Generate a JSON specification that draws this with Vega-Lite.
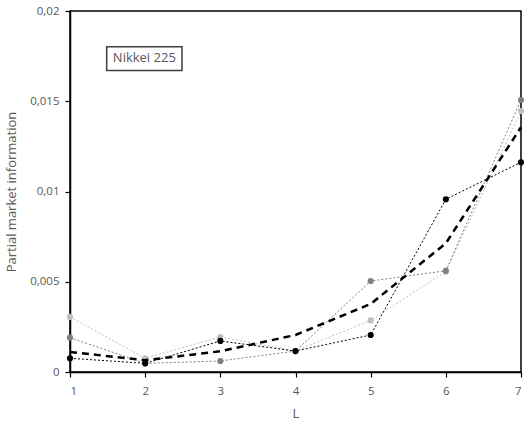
{
  "$schema": "https://vega.github.io/schema/vega-lite/v6.json",
  "width": 451,
  "height": 361,
  "autosize": "none",
  "padding": {"left": 70, "top": 11, "right": 9, "bottom": 55},
  "config": {
    "view": {"stroke": "#000000", "strokeWidth": 1.5},
    "font": "Open Sans",
    "axis": {
      "domainColor": "#000000", "domainWidth": 1.5, "tickColor": "#000000", "tickWidth": 1.2, "tickSize": 5,
      "labelColor": "#595959", "labelFontSize": 11.5, "titleColor": "#595959", "titleFontSize": 13, "titleFontWeight": "normal", "grid": false
    }
  },
  "datasets": {
    "series": [
      {"L": 1, "value": 0.00305, "s": "C"}, {"L": 2, "value": 0.00076, "s": "C"}, {"L": 3, "value": 0.00194, "s": "C"}, {"L": 4, "value": 0.00116, "s": "C"}, {"L": 5, "value": 0.00286, "s": "C"}, {"L": 6, "value": 0.00556, "s": "C"}, {"L": 7, "value": 0.01446, "s": "C"},
      {"L": 1, "value": 0.0019, "s": "B"}, {"L": 2, "value": 0.00048, "s": "B"}, {"L": 3, "value": 0.00061, "s": "B"}, {"L": 4, "value": 0.00116, "s": "B"}, {"L": 5, "value": 0.00504, "s": "B"}, {"L": 6, "value": 0.00561, "s": "B"}, {"L": 7, "value": 0.01507, "s": "B"},
      {"L": 1, "value": 0.00076, "s": "A"}, {"L": 2, "value": 0.00048, "s": "A"}, {"L": 3, "value": 0.00172, "s": "A"}, {"L": 4, "value": 0.00116, "s": "A"}, {"L": 5, "value": 0.00205, "s": "A"}, {"L": 6, "value": 0.00957, "s": "A"}, {"L": 7, "value": 0.01162, "s": "A"}
    ],
    "mean": [
      {"L": 1, "value": 0.00111}, {"L": 2, "value": 0.00065}, {"L": 3, "value": 0.00115}, {"L": 4, "value": 0.00205}, {"L": 5, "value": 0.00377}, {"L": 6, "value": 0.00713}, {"L": 7, "value": 0.01356}
    ],
    "label": [
      {"x1": 1.488, "x2": 2.49, "y1": 0.01671, "y2": 0.01802, "xc": 1.989, "yc": 0.01737, "text": "Nikkei 225"}
    ]
  },
  "encoding": {
    "x": {"field": "L", "type": "quantitative", "scale": {"domain": [1, 7], "nice": false, "zero": false},
      "axis": {"values": [1, 2, 3, 4, 5, 6, 7], "title": "L", "labelPadding": 8, "titlePadding": 11}},
    "y": {"field": "value", "type": "quantitative", "scale": {"domain": [0, 0.02], "nice": false},
      "axis": {"values": [0, 0.005, 0.01, 0.015, 0.02], "title": "Partial market information",
        "labelExpr": "replace(format(datum.value, '.3~f'), '.', ',')", "labelPadding": 6, "titlePadding": 11}}
  },
  "layer": [
    {
      "data": {"name": "series"},
      "mark": {"type": "line", "strokeWidth": 1, "strokeDash": [2, 2]},
      "encoding": {
        "color": {"field": "s", "type": "nominal", "scale": {"domain": ["A", "B", "C"], "range": ["#000000", "#7f7f7f", "#bfbfbf"]}, "legend": null},
        "order": {"field": "L", "type": "quantitative"}
      }
    },
    {
      "data": {"name": "series"},
      "mark": {"type": "circle", "size": 38, "opacity": 1},
      "encoding": {
        "color": {"field": "s", "type": "nominal", "scale": {"domain": ["A", "B", "C"], "range": ["#000000", "#7f7f7f", "#bfbfbf"]}, "legend": null}
      }
    },
    {
      "data": {"name": "mean"},
      "mark": {"type": "line", "strokeWidth": 2.5, "strokeDash": [7, 5], "color": "#000000"},
      "encoding": {}
    },
    {
      "data": {"name": "label"},
      "mark": {"type": "rect", "fill": "#ffffff", "stroke": "#404040", "strokeWidth": 1.5},
      "encoding": {
        "x": {"field": "x1", "type": "quantitative"},
        "x2": {"field": "x2"},
        "y": {"field": "y1", "type": "quantitative"},
        "y2": {"field": "y2"}
      }
    },
    {
      "data": {"name": "label"},
      "mark": {"type": "text", "fontSize": 13, "color": "#595959", "align": "center", "baseline": "middle"},
      "encoding": {
        "x": {"field": "xc", "type": "quantitative"},
        "y": {"field": "yc", "type": "quantitative"},
        "text": {"field": "text"}
      }
    }
  ]
}
